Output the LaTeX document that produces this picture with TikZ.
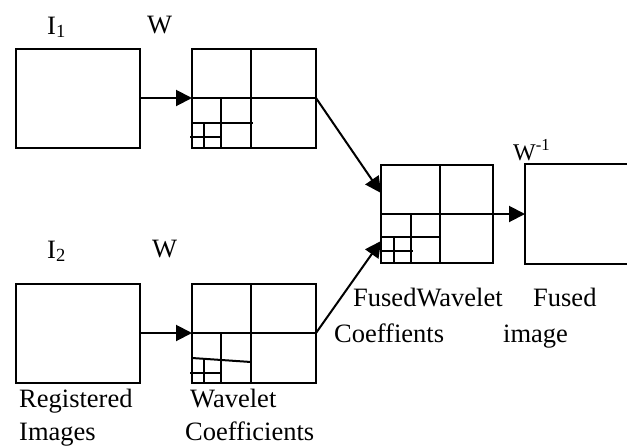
\documentclass[tikz,border=0pt]{standalone}
\usepackage{fontspec}
\setmainfont{Liberation Serif}
\usepackage{tikz}
\usetikzlibrary{arrows.meta, positioning}

\begin{document}
\begin{tikzpicture}[
  x=1pt, y=-1pt,
  img/.style={rectangle, draw, line width=2pt, inner sep=0pt, outer sep=0pt,
              minimum width=124pt, minimum height=99pt},
  sub/.style={line width=2pt},
  arr/.style={-{Triangle[length=16pt,width=16pt]}, line width=2pt},
  lbl/.style={anchor=base west, inner sep=0pt, font=\fontsize{26.5}{31}\selectfont}
]
  \useasboundingbox (0,0) rectangle (627,445);
  % image boxes
  \node[img] (img1) at (78,98)  {};
  \node[img] (wav1) at (254,98) {};
  \node[img] (img2) at (78,333) {};
  \node[img] (wav2) at (254,333) {};
  \node[img, minimum width=112pt, minimum height=98pt] (fus) at (437,214) {};
  \node[img, minimum width=120pt, minimum height=100pt] (res) at (585,214) {};
  % wavelet subbands
  \draw[sub] (251,48.5) -- (251,147.5);
  \draw[sub] (192,98) -- (316,98);
  \draw[sub] (221,98) -- (221,147.5);
  \draw[sub] (192,123) -- (253,123);
  \draw[sub] (204,123) -- (204,147.5);
  \draw[sub] (190,137) -- (221,137);
  \draw[sub] (251,283.5) -- (251,382.5);
  \draw[sub] (192,333) -- (316,333);
  \draw[sub] (221,333) -- (221,382.5);
  \draw[sub] (192,358) -- (251,362);
  \draw[sub] (204,358) -- (204,382.5);
  \draw[sub] (190,373) -- (221,373);
  \draw[sub] (440,165) -- (440,263);
  \draw[sub] (381,214) -- (493,214);
  \draw[sub] (411,214) -- (411,263);
  \draw[sub] (381,237) -- (440,237);
  \draw[sub] (394,237) -- (394,263);
  \draw[sub] (381,251) -- (413,251);
  % labels
  \node[lbl] (li1) at (47,34)  {I\textsubscript{1}};
  \node[lbl] (lw1) at (147,33) {W};
  \node[lbl] (li2) at (47,258) {I\textsubscript{2}};
  \node[lbl] (lw2) at (152,257) {W};
  \node[lbl, font=\fontsize{24}{28}\selectfont] (lwi) at (513,160) {W\textsuperscript{-1}};
  \node[lbl] (reg)  at (19,407)  {Registered};
  \node[lbl] (imgs) at (19,440)  {Images};
  \node[lbl] (wl)   at (190,407) {Wavelet};
  \node[lbl] (coef) at (185,440) {Coefficients};
  \node[lbl] (fw)   at (353,306) {FusedWavelet};
  \node[lbl] (fcoe) at (334,342) {Coeffients};
  \node[lbl] (fu)   at (533,306) {Fused};
  \node[lbl] (fimg) at (503,342) {image};
  % connectors
  \coordinate (fin1) at (381,193);
  \coordinate (fin2) at (381,241);
  \draw[arr] (img1) -- (wav1);
  \draw[arr] (img2) -- (wav2);
  \draw[arr] (wav1.east) -- (fin1);
  \draw[arr] (wav2.east) -- (fin2);
  \draw[arr] (fus.east) -- (res.west);
\end{tikzpicture}
\end{document}
